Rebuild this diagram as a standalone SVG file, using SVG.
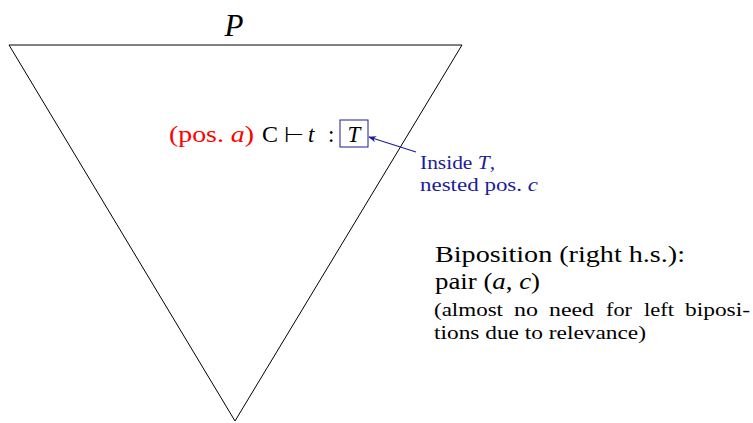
<svg xmlns="http://www.w3.org/2000/svg" width="753" height="423" viewBox="0 0 753 423">
<style>
text{font-family:"Liberation Serif","Times New Roman",serif;fill:#000}
.i{font-style:italic}
.red{fill:#ff0000}
.blue{fill:#1c1c9a}
.big{font-size:24px}
.sm{font-size:19px}
</style>
<defs>
<marker id="ah" viewBox="0 0 10 10" refX="9" refY="5" markerWidth="8" markerHeight="8" markerUnits="userSpaceOnUse" orient="auto">
<path d="M0,1 L10,5 L0,9 L3,5 Z" fill="#1c1c9a"/>
</marker>
</defs>
<rect width="753" height="423" fill="#fff"/>
<g id="triangle">
<polygon points="9,45 462,45 235,421" fill="none" stroke="#000" stroke-width="1"/>
<text x="234" y="36" class="i" font-size="31" text-anchor="middle">P</text>
</g>
<g id="judgement">
<text x="169" y="142" font-size="23" class="red" textLength="85" lengthAdjust="spacingAndGlyphs">(pos. <tspan class="i">a</tspan>)</text>
<text x="262" y="142" font-size="23" textLength="16" lengthAdjust="spacingAndGlyphs">C</text>
<text x="284" y="142" font-size="23">⊢</text>
<text x="308" y="142" font-size="23" class="i">t</text>
<text x="328" y="142" font-size="23">:</text>
<rect x="340" y="120" width="28" height="27" fill="none" stroke="#1c1c9a" stroke-width="1"/>
<text x="354" y="142" class="i" font-size="23" text-anchor="middle">T</text>
</g>
<g id="connectors">
<line x1="416" y1="152" x2="369" y2="137" stroke="#1c1c9a" stroke-width="1.2" marker-end="url(#ah)"/>
</g>
<g id="note">
<text x="420" y="169" font-size="18" class="blue" textLength="75" lengthAdjust="spacingAndGlyphs">Inside <tspan class="i">T</tspan>,</text>
<text x="420" y="191" font-size="18" class="blue" textLength="118" lengthAdjust="spacingAndGlyphs">nested pos. <tspan class="i">c</tspan></text>
</g>
<g id="biposition">
<text x="435" y="262" class="big" textLength="250" lengthAdjust="spacingAndGlyphs">Biposition (right h.s.):</text>
<text x="435" y="289" class="big" textLength="105" lengthAdjust="spacingAndGlyphs">pair (<tspan class="i">a</tspan>, <tspan class="i">c</tspan>)</text>
<g class="sm">
<text x="434" y="316" textLength="69" lengthAdjust="spacingAndGlyphs">(almost</text>
<text x="514" y="316" textLength="24" lengthAdjust="spacingAndGlyphs">no</text>
<text x="549" y="316" textLength="45" lengthAdjust="spacingAndGlyphs">need</text>
<text x="606" y="316" textLength="26" lengthAdjust="spacingAndGlyphs">for</text>
<text x="644" y="316" textLength="30" lengthAdjust="spacingAndGlyphs">left</text>
<text x="685" y="316" textLength="65" lengthAdjust="spacingAndGlyphs">biposi-</text>
</g>
<text x="434" y="339" class="sm" textLength="212" lengthAdjust="spacingAndGlyphs">tions due to relevance)</text>
</g>
</svg>
